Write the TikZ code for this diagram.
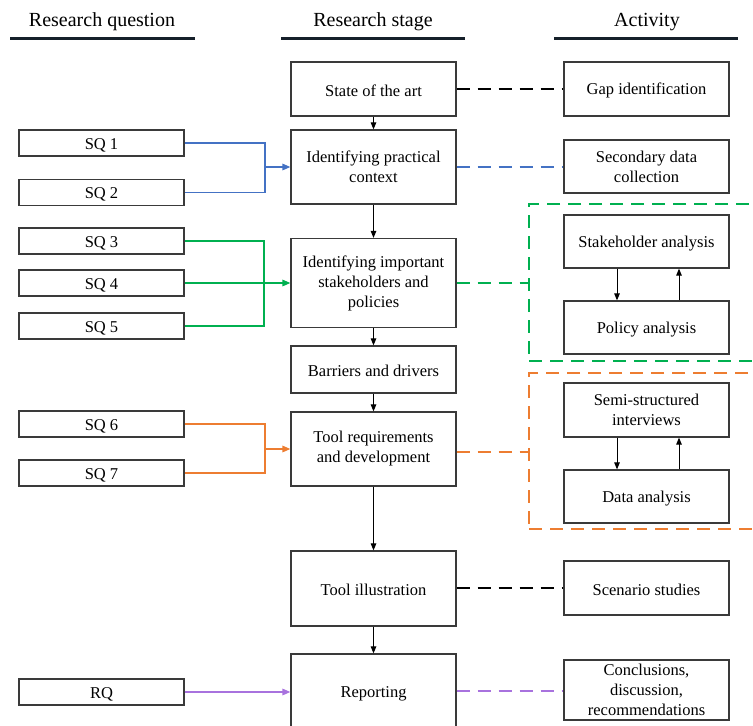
\documentclass[tikz,border=0pt]{standalone}
\usepackage{fontspec}
\setmainfont{Liberation Serif}
\usetikzlibrary{arrows.meta}
\definecolor{boxline}{HTML}{3A3A3A}
\definecolor{headline}{HTML}{16202A}
\definecolor{cblue}{HTML}{4472C4}
\definecolor{cgreen}{HTML}{00B050}
\definecolor{corange}{HTML}{ED7D31}
\definecolor{cpurple}{HTML}{A872DE}
\tikzset{
  boxtext/.style={font=\fontsize{16.5}{20}\selectfont, align=center,
    execute at begin node={\rule{0pt}{15pt}}},
  stagebox/.style={draw=boxline, line width=1.2pt, boxtext, minimum width=165pt, inner sep=0pt},
  qbox/.style={stagebox, minimum height=26pt},
  header/.style={font=\fontsize{20}{24}\selectfont},
  underline/.style={draw=headline, line width=3pt},
  flow/.style={line width=1pt, -{Triangle[length=7pt,width=5.5pt]}},
  feed/.style={line width=1.5pt},
  feedarrow/.style={feed, -{Triangle[length=8pt,width=6.5pt]}},
  dashlink/.style={line width=1.5pt, dash pattern=on 13pt off 8pt},
  groupbox/.style={draw, line width=1.5pt, dash pattern=on 13pt off 8pt, inner sep=0pt},
}
\begin{document}
\begin{tikzpicture}[x=1pt, y=-1pt]
\useasboundingbox (0,0) rectangle (753,726);
\clip (0,0) rectangle (753,726);

% column headers
\node[header] (h1) at (102,22) {Research question};
\node[header] (h2) at (373,22) {Research stage};
\node[header] (h3) at (647,22) {Activity};
\draw[underline] (10,38) -- (195,38);
\draw[underline] (281,38) -- (465,38);
\draw[underline] (554,38) -- (738,38);

% research stages
\node[stagebox, minimum height=54pt] (sota) at (373.5,89) {State of the art};
\node[stagebox, minimum height=74pt] (ctx) at (373.5,167) {Identifying practical\\context};
\node[stagebox, minimum height=89pt] (stk) at (373.5,283) {Identifying important\\stakeholders and\\policies};
\node[stagebox, minimum height=47pt] (bar) at (373.5,369.5) {Barriers and drivers};
\node[stagebox, minimum height=74pt] (req) at (373.5,449) {Tool requirements\\and development};
\node[stagebox, minimum height=75pt] (ill) at (373.5,588.5) {Tool illustration};
\node[stagebox, minimum height=76pt] (rep) at (373.5,692) {Reporting};

% research questions
\node[qbox] (sq1) at (101.5,143) {SQ 1};
\node[qbox] (sq2) at (101.5,192.5) {SQ 2};
\node[qbox] (sq3) at (101.5,241) {SQ 3};
\node[qbox] (sq4) at (101.5,283) {SQ 4};
\node[qbox] (sq5) at (101.5,326) {SQ 5};
\node[qbox] (sq6) at (101.5,424) {SQ 6};
\node[qbox] (sq7) at (101.5,473) {SQ 7};
\node[qbox] (rq) at (101.5,692) {RQ};

% activities
\node[stagebox, minimum height=54pt] (gap) at (646.5,89) {Gap identification};
\node[stagebox, minimum height=53pt] (sec) at (646.5,166.5) {Secondary data\\collection};
\node[groupbox, draw=cgreen, minimum width=231pt, minimum height=157pt] (gbox) at (644.5,282.5) {};
\node[stagebox, minimum height=53pt] (sha) at (646.5,241.5) {Stakeholder analysis};
\node[stagebox, minimum height=53pt] (pol) at (646.5,327.5) {Policy analysis};
\node[groupbox, draw=corange, minimum width=231pt, minimum height=156pt] (obox) at (644.5,451) {};
\node[stagebox, minimum height=54pt] (semi) at (646.5,410) {Semi-structured\\interviews};
\node[stagebox, minimum height=53pt] (dat) at (646.5,496.5) {Data analysis};
\node[stagebox, minimum height=54pt] (scen) at (646.5,588) {Scenario studies};
\node[stagebox, minimum height=60pt] (conc) at (646.5,690) {Conclusions,\\discussion,\\recommendations};

% flow between stages
\draw[flow] (sota) -- (ctx);
\draw[flow] (ctx) -- (stk);
\draw[flow] (stk) -- (bar);
\draw[flow] (bar) -- (req);
\draw[flow] (req) -- (ill);
\draw[flow] (ill) -- (rep);

% iterations inside the activity groups
\draw[flow] (sha.south -| 617,0) -- (pol.north -| 617,0);
\draw[flow] (pol.north -| 679,0) -- (sha.south -| 679,0);
\draw[flow] (semi.south -| 617,0) -- (dat.north -| 617,0);
\draw[flow] (dat.north -| 679,0) -- (semi.south -| 679,0);

% questions feeding the stages
\coordinate (jb) at (265,167);
\draw[feed, cblue] (sq1.east) -| (jb) |- (sq2.east);
\draw[feedarrow, cblue] (jb) -- (jb -| ctx.west);

\coordinate (jg) at (264,283);
\draw[feed, cgreen] (sq3.east) -| (jg) |- (sq5.east);
\draw[feedarrow, cgreen] (sq4.east) -- (sq4.east -| stk.west);

\coordinate (jo) at (265,449);
\draw[feed, corange] (sq6.east) -| (jo) |- (sq7.east);
\draw[feedarrow, corange] (jo) -- (jo -| req.west);

\draw[feedarrow, cpurple] (rq.east) -- (rq.east -| rep.west);

% stages linked to activities
\draw[dashlink, black] (sota.east) -- (gap.west);
\draw[dashlink, cblue] (ctx.east) -- (ctx.east -| sec.west);
\draw[dashlink, cgreen] (stk.east) -- (stk.east -| gbox.west);
\draw[dashlink, corange] (req.east |- 0,452) -- (obox.west |- 0,452);
\draw[dashlink, black] (ill.east |- scen.west) -- (scen.west);
\draw[dashlink, cpurple] (rep.east |- 0,691) -- (conc.west |- 0,691);
\end{tikzpicture}
\end{document}
